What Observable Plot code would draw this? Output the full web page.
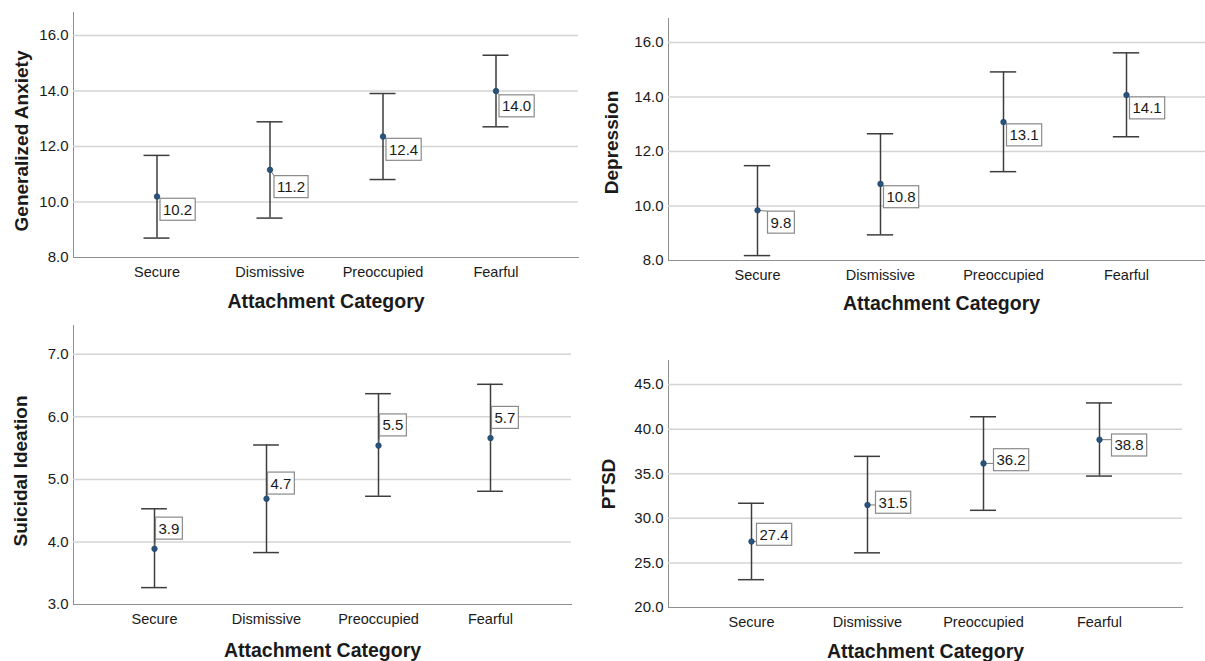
<!DOCTYPE html>
<html><head><meta charset="utf-8">
<script src="https://cdn.jsdelivr.net/npm/d3@7"></script>
<script src="https://cdn.jsdelivr.net/npm/@observablehq/plot@0.6"></script>
<style>
html,body{margin:0;padding:0;background:#fff;}
#root{position:relative;width:1205px;height:661px;overflow:hidden;background:#fff;}
.panel{position:absolute;}
.panel svg{overflow:hidden;background:transparent;}
.panel text{fill:#1a1a1a;}
.panel g[aria-label^="y-axis"] text{font-size:15px;}
</style></head><body><div id="root"></div>
<script>
// ---- data ----
const categories = ["Secure", "Dismissive", "Preoccupied", "Fearful"];
const xTitle = "Attachment Category";

const anxietyMean = [10.2, 11.16, 12.36, 14.0];
const anxietyLo   = [8.70, 9.42, 10.81, 12.71];
const anxietyHi   = [11.68, 12.89, 13.91, 15.29];
const anxietyTicks = [8, 10, 12, 14, 16];

const depressionMean = [9.84, 10.81, 13.08, 14.07];
const depressionLo   = [8.18, 8.94, 11.26, 12.54];
const depressionHi   = [11.48, 12.65, 14.92, 15.62];
const depressionTicks = [8, 10, 12, 14, 16];

const suicidalMean = [3.89, 4.69, 5.54, 5.66];
const suicidalLo   = [3.27, 3.83, 4.73, 4.81];
const suicidalHi   = [4.53, 5.55, 6.37, 6.52];
const suicidalTicks = [3, 4, 5, 6, 7];

const ptsdMean = [27.4, 31.5, 36.16, 38.82];
const ptsdLo   = [23.12, 26.13, 30.9, 34.74];
const ptsdHi   = [31.69, 36.95, 41.39, 42.94];
const ptsdTicks = [20, 25, 30, 35, 40, 45];

// ---- layout ----
const panels = [
  {title: "Generalized Anxiety", mean: anxietyMean, lo: anxietyLo, hi: anxietyHi, ticks: anxietyTicks,
   domain: [8, 16.83], left: 0, top: 0, width: 600, height: 330,
   m: {top: 12, right: 22, bottom: 73, left: 73}, yDx: -52, yDy: 6, xDy: 44,
   off: [[3, 13.5], [4, 17.5], [3, 13.5], [3, 15.5]]},
  {title: "Depression", mean: depressionMean, lo: depressionLo, hi: depressionHi, ticks: depressionTicks,
   domain: [8, 16.88], left: 590, top: 0, width: 615, height: 330,
   m: {top: 18, right: -9, bottom: 70, left: 78}, yDx: -57, yDy: 3, xDy: 43,
   off: [[10, 12.5], [3, 13.5], [3, 13.5], [3, 13.5]]},
  {title: "Suicidal Ideation", mean: suicidalMean, lo: suicidalLo, hi: suicidalHi, ticks: suicidalTicks,
   domain: [3, 7.46], left: 0, top: 310, width: 600, height: 351,
   m: {top: 15, right: 29, bottom: 57, left: 73}, yDx: -53, yDy: 6, xDy: 46,
   off: [[1, -20], [1, -15], [1, -20], [1, -20]]},
  {title: "PTSD", mean: ptsdMean, lo: ptsdLo, hi: ptsdHi, ticks: ptsdTicks,
   domain: [20, 47.7], left: 590, top: 310, width: 615, height: 351,
   m: {top: 50, right: 23, bottom: 54, left: 78}, yDx: -60, yDy: 0, xDy: 44,
   off: [[5, -6.5], [8, -2], [10, -3], [12, 6]]}
];

const root = document.getElementById("root");
const NS = "http://www.w3.org/2000/svg";
const BAR = "#3d3d3d";
const FONT = "'Liberation Sans', Arial, sans-serif";
const PI = 0.5, PO = 0.465, CAP = 26;

for (const p of panels) {
  const rows = categories.map((c, i) => ({cat: c, mean: p.mean[i], lo: p.lo[i], hi: p.hi[i]}));
  const innerW = p.width - p.m.left - p.m.right;
  const step = innerW / (categories.length - PI + 2 * PO);
  const inset = (step * (1 - PI) - CAP) / 2;

  const chart = Plot.plot({
    width: p.width, height: p.height,
    marginTop: p.m.top, marginRight: p.m.right, marginBottom: p.m.bottom, marginLeft: p.m.left,
    style: {fontFamily: FONT, fontSize: "14.5px", color: "#8f8f8f", background: "transparent", overflow: "hidden"},
    x: {type: "band", domain: categories, paddingInner: PI, paddingOuter: PO, align: 0.5,
        tickSize: 0, tickPadding: 9, label: null, line: true},
    y: {domain: p.domain, ticks: p.ticks, tickFormat: d3.format(".1f"),
        tickSize: 0, tickPadding: 5, label: null, line: true},
    marks: [
      Plot.ruleY(p.ticks.slice(1), {stroke: "#d4d4d4", strokeWidth: 1.5}),
      Plot.ruleX(rows, {x: "cat", y1: "lo", y2: "hi", stroke: BAR, strokeWidth: 1.5}),
      Plot.tickY(rows, {x: "cat", y: "hi", stroke: BAR, strokeWidth: 1.5, insetLeft: inset, insetRight: inset}),
      Plot.tickY(rows, {x: "cat", y: "lo", stroke: BAR, strokeWidth: 1.5, insetLeft: inset, insetRight: inset}),
      Plot.dot(rows, {x: "cat", y: "mean", r: 2.8, fill: "#27537d", stroke: "#1c3d5e", strokeWidth: 0.6, ariaLabel: () => "dots"}),
      ...rows.map((d, i) => Plot.text([d], {
        x: "cat", y: "mean", text: r => r.mean.toFixed(1),
        textAnchor: "start", lineAnchor: "middle",
        dx: p.off[i][0] + 3, dy: p.off[i][1], fontSize: 15, fill: "#111", ariaLabel: () => "vlabel"
      })),
      Plot.text([p.title], {frameAnchor: "left", text: d => d, rotate: -90, textAnchor: "middle", lineAnchor: "middle",
        dx: p.yDx, dy: p.yDy, fontWeight: "bold", fontSize: 19, fill: "#111"}),
      Plot.text([xTitle], {frameAnchor: "bottom", text: d => d, textAnchor: "middle", lineAnchor: "middle",
        dy: p.xDy, fontWeight: "bold", fontSize: 19.5, fill: "#111"})
    ]
  });

  const div = document.createElement("div");
  div.className = "panel";
  div.style.left = p.left + "px";
  div.style.top = p.top + "px";
  div.appendChild(chart);
  root.appendChild(div);

  // label boxes + leader lines, positioned from the rendered marks
  const svg = chart;
  const sr = svg.getBoundingClientRect();
  const circles = svg.querySelectorAll('circle[aria-label="dots"]');
  const labels = svg.querySelectorAll('text[aria-label="vlabel"]');
  if (circles.length && labels.length === circles.length) {
    const dotsG = circles[0].parentNode;
    const g = document.createElementNS(NS, "g");
    dotsG.parentNode.insertBefore(g, dotsG);
    labels.forEach((t, i) => {
      const b = t.getBoundingClientRect();
      const c = circles[i].getBoundingClientRect();
      const cx = c.left + c.width / 2 - sr.left, cy = c.top + c.height / 2 - sr.top;
      const x0 = b.left - sr.left - 3, x1 = b.right - sr.left + 3;
      const ym = (b.top + b.bottom) / 2 - sr.top;
      const y0 = ym - 11, y1 = ym + 11;
      const lx = Math.max(x0, Math.min(cx, x1)), ly = Math.max(y0, Math.min(cy, y1));
      const ln = document.createElementNS(NS, "line");
      ln.setAttribute("x1", cx); ln.setAttribute("y1", cy);
      ln.setAttribute("x2", lx); ln.setAttribute("y2", ly);
      ln.setAttribute("stroke", "#7a7a7a"); ln.setAttribute("stroke-width", 1);
      g.appendChild(ln);
      const rc = document.createElementNS(NS, "rect");
      rc.setAttribute("x", x0); rc.setAttribute("y", y0);
      rc.setAttribute("width", x1 - x0); rc.setAttribute("height", y1 - y0);
      rc.setAttribute("fill", "#fff"); rc.setAttribute("stroke", "#8a8a8a"); rc.setAttribute("stroke-width", 1.2);
      g.appendChild(rc);
    });
  }
}
</script>
</body></html>
